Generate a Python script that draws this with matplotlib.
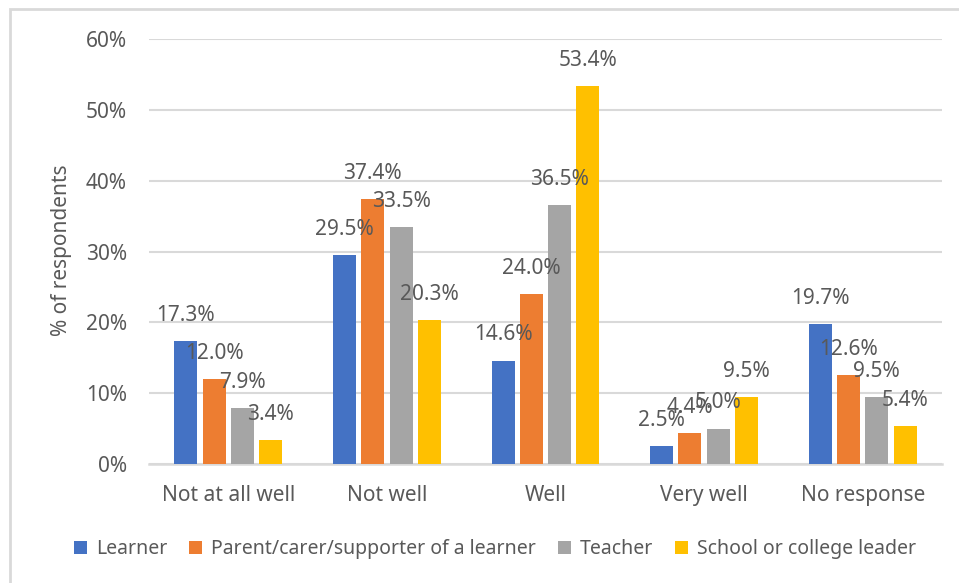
import numpy as np
import matplotlib
matplotlib.use('Agg')
import matplotlib.pyplot as plt
from matplotlib.patches import Rectangle

categories = ['Not at all well', 'Not well', 'Well', 'Very well', 'No response']
series_names = ['Learner', 'Parent/carer/supporter of a learner', 'Teacher', 'School or college leader']
learner = [17.3, 29.5, 14.6, 2.5, 19.7]
parent = [12.0, 37.4, 24.0, 4.4, 12.6]
teacher = [7.9, 33.5, 36.5, 5.0, 9.5]
leader = [3.4, 20.3, 53.4, 9.5, 5.4]
yticks = [0, 10, 20, 30, 40, 50, 60]

colors = ['#4472C4', '#ED7D31', '#A5A5A5', '#FFC000']
text_color = '#595959'
grid_color = '#D9D9D9'

plt.rcParams['font.family'] = ['Noto Sans', 'DejaVu Sans']
fs = 15

fig = plt.figure(figsize=(9.59, 5.83), dpi=100)
ax = fig.add_axes([149 / 959, 1 - 464 / 583, (942 - 149) / 959, (464 - 39) / 583])

# chart border, cut off at the right and bottom like the screenshot
top = 1 - 9 / 583
fig.patches.append(Rectangle((10 / 959, -0.2), 1.2, top + 0.2,
                             transform=fig.transFigure, fill=False,
                             edgecolor=grid_color, linewidth=2))

x = np.arange(len(categories))
step = 0.178
width = 0.145
for i, (name, vals) in enumerate(zip(series_names, [learner, parent, teacher, leader])):
    pos = x + (i - 1.5) * step
    ax.bar(pos, vals, width, color=colors[i], label=name, zorder=3)
    for p, v in zip(pos, vals):
        ax.annotate(f'{v:.1f}%', (p, v), xytext=(0, 18.5), textcoords='offset points',
                    ha='center', va='center', fontsize=fs, color=text_color, zorder=4)

ax.set_xlim(-0.5, 4.5)
ax.set_ylim(0, 60)
ax.set_yticks(yticks)
ax.set_yticklabels([f'{t}%' for t in yticks])
ax.set_xticks(x)
ax.set_xticklabels(categories)
ax.yaxis.grid(True, color=grid_color, linewidth=1.5, zorder=0)
ax.set_axisbelow(True)
for s in ['top', 'right', 'left']:
    ax.spines[s].set_visible(False)
ax.spines['bottom'].set_color(grid_color)
ax.spines['bottom'].set_linewidth(1.8)
ax.tick_params(axis='both', length=0, labelsize=fs, colors=text_color)
ax.tick_params(axis='y', pad=16)
ax.tick_params(axis='x', pad=15)

fig.text(62 / 959, 1 - 250 / 583, '% of respondents', rotation=90, ha='center', va='center',
         fontsize=fs, color=text_color)

fig.legend(loc='center', bbox_to_anchor=(495 / 959, 1 - 549 / 583), ncol=4, frameon=False,
           fontsize=14, labelcolor=text_color, handlelength=0.65, handleheight=0.65,
           handletextpad=0.45, columnspacing=1.15)

fig.savefig('out.png', dpi=100)
